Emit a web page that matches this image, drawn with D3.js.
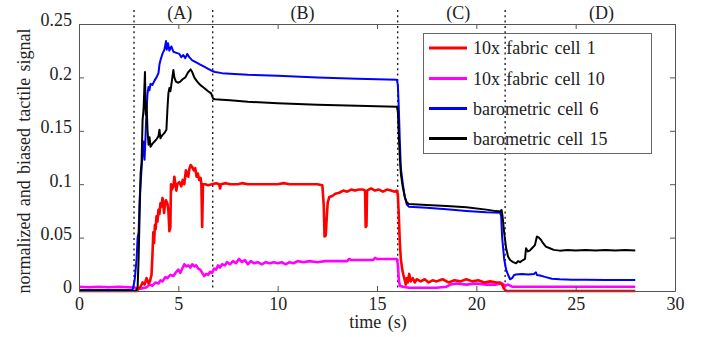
<!DOCTYPE html>
<html><head><meta charset="utf-8">
<script src="https://cdn.jsdelivr.net/npm/d3@7"></script>
<style>
html,body{margin:0;padding:0;background:#fff;}
</style></head>
<body><svg id="c" width="710" height="337"></svg>
<script>
const xTicks = [0,5,10,15,20,25,30];
const yTicks = [0,0.05,0.1,0.15,0.2,0.25];
const yTickLabels = ["0","0.05","0.1","0.15","0.2","0.25"];
const phaseLines = [2.77,6.73,16.04,21.45];
const phaseLabels = ["(A)","(B)","(C)","(D)"];
const phaseLabelX = [5.07,11.25,19.09,26.3];
const seriesNames = ["10x fabric cell 1","10x fabric cell 10","barometric cell 6","barometric cell 15"];
const seriesColors = ["#ff0000","#ff00ff","#0000ff","#000000"];

const fabric1 = [[0,0],[2.9,0],[3.1,0.004],[3.2,0.008],[3.3,0.006],[3.4,0.012],[3.5,0.007],[3.57,0.009],[3.65,0.015],[3.7,0.035],[3.74,0.055],[3.78,0.045],[3.82,0.062],[3.86,0.058],[3.9,0.07],[3.95,0.065],[4.0,0.076],[4.05,0.072],[4.1,0.082],[4.15,0.079],[4.2,0.087],[4.24,0.084],[4.28,0.073],[4.32,0.08],[4.38,0.085],[4.45,0.082],[4.5,0.075],[4.55,0.056],[4.6,0.06],[4.63,0.1],[4.68,0.095],[4.75,0.098],[4.8,0.107],[4.85,0.1],[4.9,0.094],[4.95,0.1],[5.05,0.102],[5.15,0.098],[5.22,0.104],[5.3,0.1],[5.38,0.113],[5.45,0.108],[5.5,0.107],[5.55,0.114],[5.62,0.118],[5.7,0.116],[5.78,0.113],[5.85,0.115],[5.92,0.107],[5.98,0.11],[6.05,0.104],[6.12,0.106],[6.16,0.1],[6.2,0.06],[6.24,0.1],[6.35,0.1],[6.5,0.099],[6.7,0.1],[6.9,0.101],[7.05,0.1],[7.1,0.096],[7.15,0.1],[7.4,0.101],[7.6,0.1],[8.0,0.1],[8.2,0.101],[8.5,0.1],[9.0,0.1],[9.3,0.1],[9.6,0.1],[10.0,0.1],[10.3,0.101],[10.6,0.1],[11.0,0.1],[11.5,0.1],[12.0,0.1],[12.25,0.099],[12.32,0.08],[12.36,0.051],[12.42,0.052],[12.48,0.072],[12.52,0.083],[12.6,0.088],[12.75,0.089],[12.9,0.091],[13.1,0.092],[13.3,0.094],[13.5,0.093],[13.7,0.095],[13.9,0.094],[14.1,0.095],[14.3,0.095],[14.4,0.094],[14.43,0.06],[14.47,0.061],[14.5,0.094],[14.7,0.096],[14.9,0.094],[15.1,0.095],[15.3,0.093],[15.5,0.095],[15.7,0.094],[15.9,0.093],[16.0,0.094],[16.05,0.09],[16.1,0.07],[16.15,0.045],[16.2,0.03],[16.27,0.02],[16.33,0.015],[16.4,0.01],[16.45,0.006],[16.5,0.012],[16.55,0.008],[16.62,0.016],[16.7,0.009],[16.8,0.012],[16.9,0.008],[17.0,0.011],[17.2,0.009],[17.4,0.011],[17.6,0.008],[17.8,0.01],[18.0,0.009],[18.3,0.011],[18.6,0.008],[18.9,0.01],[19.2,0.009],[19.5,0.011],[19.8,0.009],[20.1,0.01],[20.4,0.008],[20.7,0.009],[21.0,0.008],[21.2,0.008],[21.3,0.006],[21.4,0.002],[21.5,0],[28,0]];

const fabric10 = [[0,0.004],[0.5,0.0035],[1.0,0.004],[1.5,0.0035],[2.0,0.004],[2.5,0.0035],[2.9,0.003],[3.1,0.002],[3.3,0.003],[3.4,0.0034],[3.55,0.006],[3.7,0.005],[3.85,0.008],[4.0,0.007],[4.1,0.01],[4.2,0.009],[4.35,0.013],[4.45,0.012],[4.6,0.015],[4.75,0.014],[4.9,0.018],[5.0,0.02],[5.1,0.017],[5.2,0.021],[5.3,0.025],[5.4,0.023],[5.5,0.024],[5.6,0.022],[5.7,0.025],[5.8,0.023],[5.9,0.024],[6.0,0.021],[6.1,0.02],[6.2,0.017],[6.3,0.014],[6.4,0.016],[6.5,0.015],[6.6,0.018],[6.7,0.017],[6.8,0.021],[6.9,0.02],[7.0,0.024],[7.1,0.022],[7.2,0.025],[7.35,0.024],[7.45,0.027],[7.6,0.025],[7.75,0.028],[7.9,0.026],[8.05,0.03],[8.2,0.027],[8.35,0.029],[8.5,0.025],[8.65,0.028],[8.8,0.026],[9.0,0.027],[9.2,0.025],[9.4,0.027],[9.6,0.026],[9.8,0.027],[10.0,0.026],[10.2,0.027],[10.4,0.025],[10.6,0.027],[10.8,0.026],[11.0,0.028],[11.3,0.027],[11.6,0.028],[12.0,0.027],[12.4,0.028],[12.8,0.028],[13.2,0.028],[13.5,0.028],[13.6,0.03],[13.7,0.029],[14.0,0.029],[14.5,0.029],[14.8,0.029],[14.9,0.031],[15.0,0.03],[15.5,0.03],[16.0,0.03],[16.05,0.025],[16.1,0.01],[16.15,0.005],[16.3,0.004],[16.6,0.003],[17.0,0.003],[17.5,0.003],[18.0,0.003],[18.5,0.004],[18.7,0.006],[19.0,0.007],[19.5,0.006],[20.0,0.007],[20.5,0.006],[21.0,0.006],[21.3,0.007],[21.45,0.005],[21.6,0.006],[21.8,0.004],[28,0.004]];

const baro6 = [[0,0.001],[1.0,0.001],[2.0,0.001],[2.7,0.001],[2.8,0.01],[2.9,0.03],[2.95,0.05],[3.0,0.055],[3.05,0.085],[3.1,0.1],[3.15,0.115],[3.2,0.13],[3.25,0.14],[3.3,0.123],[3.35,0.145],[3.4,0.17],[3.45,0.185],[3.5,0.191],[3.55,0.188],[3.6,0.194],[3.7,0.193],[3.8,0.197],[3.9,0.2],[4.0,0.204],[4.05,0.212],[4.1,0.216],[4.2,0.222],[4.3,0.226],[4.38,0.234],[4.42,0.226],[4.48,0.232],[4.55,0.225],[4.65,0.229],[4.75,0.224],[4.9,0.223],[5.05,0.222],[5.15,0.219],[5.25,0.221],[5.35,0.218],[5.45,0.222],[5.55,0.219],[5.7,0.216],[5.9,0.214],[6.1,0.212],[6.3,0.21],[6.5,0.208],[6.7,0.206],[6.85,0.205],[7.2,0.204],[7.6,0.2035],[8.5,0.2025],[10,0.2015],[12,0.2],[14,0.1988],[16.0,0.1978],[16.05,0.193],[16.1,0.17],[16.15,0.14],[16.2,0.115],[16.3,0.1],[16.4,0.088],[16.5,0.081],[16.6,0.079],[17.5,0.078],[18.5,0.0765],[19.5,0.075],[20.5,0.0737],[21.2,0.0733],[21.25,0.07],[21.3,0.05],[21.4,0.03],[21.5,0.02],[21.6,0.015],[21.7,0.011],[21.8,0.012],[21.9,0.015],[22.0,0.0155],[22.3,0.016],[22.6,0.0155],[22.9,0.016],[23.0,0.0175],[23.05,0.015],[23.2,0.0145],[23.5,0.013],[23.8,0.0115],[24.2,0.011],[24.8,0.0105],[25.5,0.0105],[26.5,0.0102],[27.5,0.0103],[28,0.0103]];

const baro15 = [[0,0],[2.85,0],[2.95,0.003],[3.0,0.03],[3.05,0.07],[3.1,0.11],[3.15,0.12],[3.2,0.16],[3.25,0.17],[3.32,0.205],[3.36,0.165],[3.4,0.175],[3.45,0.15],[3.5,0.137],[3.55,0.144],[3.6,0.135],[3.7,0.138],[3.8,0.14],[3.9,0.142],[4.0,0.145],[4.05,0.151],[4.1,0.143],[4.2,0.146],[4.3,0.148],[4.4,0.151],[4.45,0.17],[4.5,0.185],[4.55,0.19],[4.6,0.187],[4.7,0.2],[4.75,0.207],[4.8,0.2],[4.88,0.196],[5.0,0.195],[5.1,0.196],[5.2,0.198],[5.35,0.2],[5.5,0.205],[5.62,0.2075],[5.7,0.205],[5.8,0.2],[5.95,0.196],[6.1,0.193],[6.3,0.19],[6.5,0.187],[6.65,0.185],[6.75,0.18],[6.85,0.1795],[7.2,0.179],[7.6,0.1785],[8.5,0.1772],[10,0.1758],[12,0.1745],[14,0.1735],[16.0,0.1725],[16.05,0.168],[16.1,0.145],[16.15,0.125],[16.2,0.11],[16.3,0.097],[16.4,0.088],[16.5,0.083],[16.6,0.0815],[17.5,0.0805],[18.5,0.0795],[19.5,0.0785],[20.5,0.0762],[21.0,0.0748],[21.2,0.0745],[21.27,0.0758],[21.32,0.07],[21.4,0.055],[21.5,0.04],[21.6,0.032],[21.7,0.029],[21.85,0.027],[22.0,0.026],[22.1,0.028],[22.2,0.027],[22.35,0.029],[22.45,0.03],[22.5,0.04],[22.6,0.037],[22.7,0.038],[22.8,0.04],[22.95,0.043],[23.05,0.051],[23.15,0.05],[23.25,0.048],[23.35,0.045],[23.5,0.0415],[23.7,0.04],[23.9,0.0385],[24.2,0.0378],[24.6,0.0385],[25.0,0.038],[25.5,0.0385],[26,0.038],[26.5,0.0385],[27,0.038],[27.5,0.0385],[28,0.038]];

const allSeries = [fabric10, fabric1, baro6, baro15];
const drawColors = [seriesColors[1], seriesColors[0], seriesColors[2], seriesColors[3]];
const drawWidths = [2.6, 2.6, 2, 2];

const FONT = "'Liberation Serif', 'Times New Roman', Times, 'DejaVu Serif', serif";
const FS = 18;
const WS = 1.8;

const svg = d3.select("#c").attr("font-family", FONT);
const L = 79, R = 675, T = 24, B = 291;
const x = d3.scaleLinear().domain([0,30]).range([L,R]);
const y = d3.scaleLinear().domain([0,0.25]).range([B,T]);

// phase dotted lines
svg.selectAll("line.phase").data(phaseLines).enter().append("line")
  .attr("x1",d=>x(d)).attr("x2",d=>x(d)).attr("y1",10).attr("y2",B)
  .attr("stroke","#222").attr("stroke-width",1.4).attr("stroke-dasharray","2,3.3");
svg.selectAll("text.phase").data(phaseLabels).enter().append("text")
  .attr("x",(d,i)=>x(phaseLabelX[i])).attr("y",19).attr("text-anchor","middle")
  .attr("font-family",FONT).attr("font-size",FS).attr("fill","#222").text(d=>d);

// data lines
const line = d3.line().x(d=>x(d[0])).y(d=>y(d[1]));
svg.append("g").selectAll("path").data(allSeries).enter().append("path")
  .attr("d",line).attr("fill","none")
  .attr("stroke",(d,i)=>drawColors[i]).attr("stroke-width",(d,i)=>drawWidths[i])
  .attr("stroke-linejoin","round");

// axes
const ax = "#555";
function styleAxis(g){
  g.attr("font-family",FONT).attr("font-size",FS);
  g.select(".domain").attr("stroke",ax);
  g.selectAll(".tick line").attr("stroke",ax);
  g.selectAll("text").attr("fill","#222");
}
svg.append("g").attr("transform",`translate(0,${B})`)
  .call(d3.axisBottom(x).tickValues(xTicks).tickSizeInner(-5).tickSizeOuter(0).tickPadding(6).tickFormat(d3.format("d")))
  .call(styleAxis);
svg.append("g").attr("transform",`translate(0,${T})`)
  .call(d3.axisTop(x).tickValues(xTicks).tickSizeInner(-5).tickSizeOuter(0).tickFormat(""))
  .call(styleAxis);
svg.append("g").attr("transform",`translate(${L},0)`)
  .call(d3.axisLeft(y).tickValues(yTicks).tickSizeInner(-5).tickSizeOuter(0).tickPadding(7).tickFormat((d,i)=>yTickLabels[i]))
  .call(styleAxis)
  .selectAll("text").attr("dy","0.1em");
svg.append("g").attr("transform",`translate(${R},0)`)
  .call(d3.axisRight(y).tickValues(yTicks).tickSizeInner(-5).tickSizeOuter(0).tickFormat(""))
  .call(styleAxis);

// axis labels
svg.append("text").attr("x",378).attr("y",328).attr("text-anchor","middle")
  .attr("font-family",FONT).attr("font-size",FS).attr("word-spacing",WS).attr("fill","#222").text("time (s)");
svg.append("text").attr("transform","translate(30,161) rotate(-90)").attr("text-anchor","middle")
  .attr("font-family",FONT).attr("font-size",FS).attr("word-spacing",WS).attr("fill","#222").text("normalized and biased tactile signal");

// legend
const lg = svg.append("g");
lg.append("rect").attr("x",423.5).attr("y",33.5).attr("width",228).attr("height",120)
  .attr("fill","none").attr("stroke","#666").attr("stroke-width",1);
const legY = [48,78.5,108.5,138.5];
seriesNames.forEach((n,i)=>{
  lg.append("line").attr("x1",429).attr("x2",467).attr("y1",legY[i]).attr("y2",legY[i])
    .attr("stroke",seriesColors[i]).attr("stroke-width",3);
  lg.append("text").attr("x",473).attr("y",legY[i]+6).attr("font-family",FONT).attr("font-size",FS).attr("word-spacing",WS).attr("fill","#222").text(n);
});
</script></body></html>
